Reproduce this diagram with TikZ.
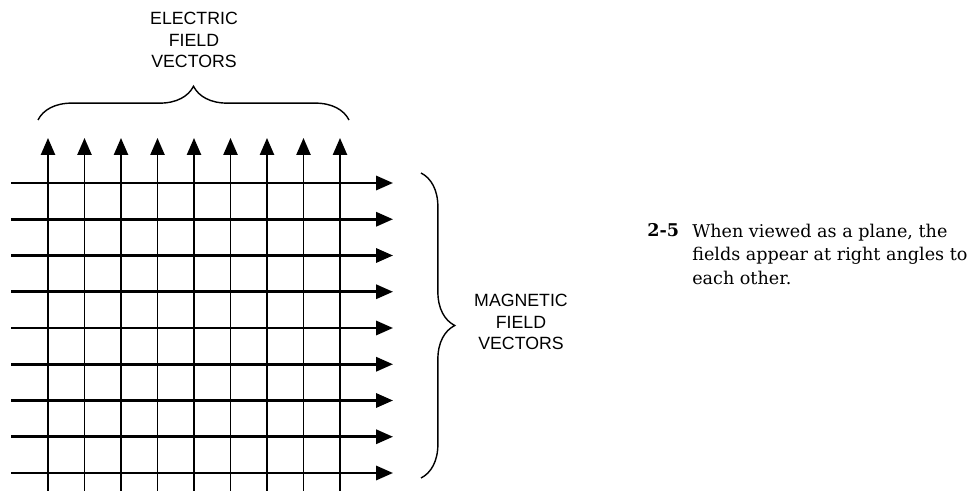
\documentclass[tikz,border=0pt]{standalone}
\usepackage{fontspec}
\usepackage{tikz}
\usetikzlibrary{arrows.meta,decorations.pathreplacing,positioning}
\newfontfamily\sanslabel{Liberation Sans}
\newfontfamily\serifcap{DejaVu Serif}
\tikzstyle{vector} = [black, -{Triangle[width=10pt,length=12pt]}]
\tikzstyle{evector} = [vector, line width=1.4pt]
\tikzstyle{mvector} = [vector, line width=1.9pt]
\tikzstyle{curly} = [black, line width=1pt, decorate,
    decoration={brace, amplitude=24pt}]
\tikzstyle{fieldlabel} = [align=center, inner sep=0pt,
    font=\sanslabel\fontsize{12.6}{15.4}\selectfont]
\tikzstyle{captext} = [align=left, inner sep=0pt,
    font=\serifcap\fontsize{12.5}{16.5}\selectfont]
\begin{document}
\begin{tikzpicture}[x=0.025cm, y=-0.025cm]
    \useasboundingbox (0,0) rectangle (973,491);
    % Electric field vectors
    \foreach \i in {0,...,8} {
        \coordinate (efoot\i) at (48+36.5*\i,491);
        \coordinate (etip\i) at (48+36.5*\i,138);
        \draw [evector] (efoot\i) -- (etip\i);
    }
    % Magnetic field vectors
    \foreach \j in {0,...,8} {
        \coordinate (mtail\j) at (11,183+36.25*\j);
        \coordinate (mtip\j) at (393,183+36.25*\j);
        \draw [mvector] (mtail\j) -- (mtip\j);
    }
    % Braces
    \coordinate (ebraceL) at (38,120);
    \coordinate (ebraceR) at (349,120);
    \coordinate (mbraceT) at (421,173);
    \coordinate (mbraceB) at (421,478);
    \draw [curly] (ebraceL) -- (ebraceR);
    \draw [curly] (mbraceT) -- (mbraceB);
    % Place labels
    \node [fieldlabel] (electric) at (194,40) {ELECTRIC\\FIELD\\VECTORS};
    \node [fieldlabel] (magnetic) at (521,322) {MAGNETIC\\FIELD\\VECTORS};
    % Caption
    \node [anchor=base west, inner sep=0pt,
    font=\serifcap\bfseries\fontsize{12.5}{16.5}\selectfont] (fignum)
    at (647,237) {2-5};
    \node [captext, anchor=north west] (figtext) at (692,224)
    {When viewed as a plane, the\\fields appear at right angles to\\each other.};
\end{tikzpicture}
\end{document}
